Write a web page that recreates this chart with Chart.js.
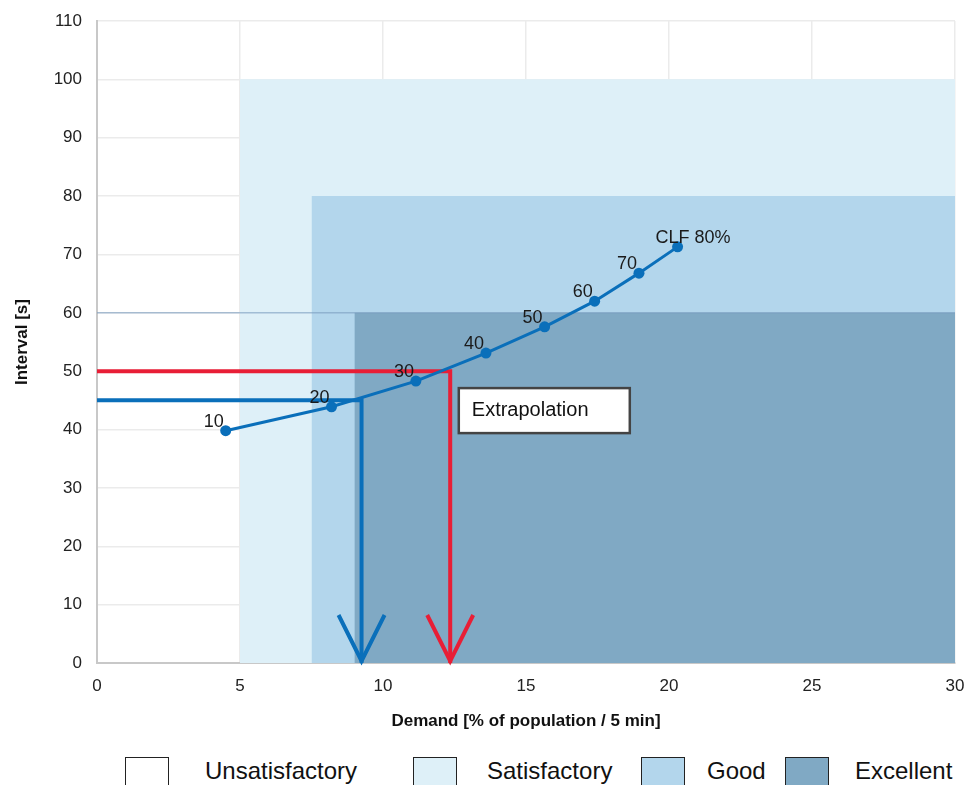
<!DOCTYPE html>
<html>
<head>
<meta charset="utf-8">
<script src="https://cdn.jsdelivr.net/npm/chart.js@4.4.1/dist/chart.umd.min.js"></script>
<style>
  body { margin: 0; background: #fff; overflow: hidden; font-family: "Liberation Sans", Arial, sans-serif; }
  #wrap { position: relative; width: 970px; height: 740px; }
  .lg-box { position: absolute; top: 757px; width: 42px; height: 32px; border: 1.5px solid #222; }
  .lg-txt { position: absolute; top: 757px; font-size: 24px; line-height: 28px; color: #111; }
</style>
</head>
<body>
<div id="wrap"><canvas id="chart"></canvas></div>

<div class="lg-box" style="left:125px;background:#ffffff"></div>
<div class="lg-txt" style="left:205px">Unsatisfactory</div>
<div class="lg-box" style="left:413px;background:#def0f8"></div>
<div class="lg-txt" style="left:487px">Satisfactory</div>
<div class="lg-box" style="left:641px;background:#b3d6ec"></div>
<div class="lg-txt" style="left:707px">Good</div>
<div class="lg-box" style="left:785px;background:#80a9c4"></div>
<div class="lg-txt" style="left:855px">Excellent</div>

<script>
// curve values (demand %, interval s)
const curveLabels = ['10', '20', '30', '40', '50', '60', '70', 'CLF 80%'];
const curveX = [4.5, 8.2, 11.15, 13.6, 15.65, 17.4, 18.95, 20.3];
const curveY = [39.8, 43.9, 48.3, 53.1, 57.6, 62.0, 66.8, 71.3];

// quality zones: [start x, top y]
const satisfactoryZone = [5, 100];
const goodZone = [7.5, 80];
const excellentZone = [9, 60];

// reading lines: [interval, demand]
const blueRead = [45, 9.25];
const redRead = [50, 12.35];

const xTicks = [0, 5, 10, 15, 20, 25, 30];
const yTicks = [0, 10, 20, 30, 40, 50, 60, 70, 80, 90, 100, 110];

const xMax = xTicks[xTicks.length - 1];
const FONT = '"Liberation Sans", Arial, sans-serif';

function zone(z) {
    return [{ x: z[0], y: z[1] }, { x: xMax, y: z[1] }];
}
function readLine(r) {
    return [{ x: 0, y: r[0] }, { x: r[1], y: r[0] }, { x: r[1], y: 0 }];
}

const curveData = curveX.map((x, i) => ({ x: x, y: curveY[i] }));

// labels next to the points, box and arrow heads
const extrasPlugin = {
    id: 'extras',
    afterDatasetsDraw(chart) {
        const ctx = chart.ctx;
        const xs = chart.scales.x;
        const ys = chart.scales.y;

        // arrow heads at the bottom of the reading lines
        const arrows = [[blueRead, '#0a6fba'], [redRead, '#e81e36']];
        arrows.forEach(([r, color]) => {
            const px = xs.getPixelForValue(r[1]);
            const py = ys.getPixelForValue(0) - 2;
            ctx.save();
            ctx.strokeStyle = color;
            ctx.lineWidth = 4;
            ctx.beginPath();
            ctx.moveTo(px - 23, py - 46);
            ctx.lineTo(px, py);
            ctx.lineTo(px + 23, py - 46);
            ctx.stroke();
            ctx.restore();
        });

        // point labels
        ctx.save();
        ctx.font = '18px ' + FONT;
        ctx.fillStyle = '#1a1a1a';
        ctx.textAlign = 'left';
        ctx.textBaseline = 'middle';
        curveData.forEach((p, i) => {
            const px = xs.getPixelForValue(p.x);
            const py = ys.getPixelForValue(p.y);
            ctx.fillText(curveLabels[i], px - 22, py - 9);
        });
        ctx.restore();

        // Extrapolation box
        const bx = xs.getPixelForValue(12.65);
        const by = ys.getPixelForValue(47.1);
        ctx.save();
        ctx.fillStyle = '#ffffff';
        ctx.fillRect(bx, by, 171, 45);
        ctx.strokeStyle = '#444';
        ctx.lineWidth = 2.5;
        ctx.strokeRect(bx, by, 171, 45);
        ctx.fillStyle = '#111';
        ctx.font = '20px ' + FONT;
        ctx.textBaseline = 'middle';
        ctx.fillText('Extrapolation', bx + 13, by + 22.5);
        ctx.restore();
    }
};

new Chart(document.getElementById('chart'), {
    type: 'line',
    data: {
        datasets: [
            { label: 'Satisfactory', data: zone(satisfactoryZone), fill: 'origin', backgroundColor: '#def0f8', borderWidth: 0, pointRadius: 0, order: 9 },
            { label: 'Good', data: zone(goodZone), fill: 'origin', backgroundColor: '#b3d6ec', borderWidth: 0, pointRadius: 0, order: 8 },
            { label: 'Excellent', data: zone(excellentZone), fill: 'origin', backgroundColor: '#80a9c4', borderWidth: 0, pointRadius: 0, order: 7 },
            { label: 'limit', data: zone([0, excellentZone[1]]), fill: false, borderColor: 'rgba(120,155,190,0.6)', borderWidth: 1.5, pointRadius: 0, order: 6 },
            { label: 'blue', data: readLine(blueRead), fill: false, borderColor: '#0a6fba', borderWidth: 4, pointRadius: 0, order: 4 },
            { label: 'red', data: readLine(redRead), fill: false, borderColor: '#e81e36', borderWidth: 4, pointRadius: 0, order: 3 },
            { label: 'CLF', data: curveData, fill: false, borderColor: '#0a6fba', backgroundColor: '#0a6fba', borderWidth: 3, pointRadius: 5.5, pointBorderWidth: 0, order: 1 }
        ]
    },
    options: {
        responsive: true,
        maintainAspectRatio: false,
        animation: false,
        layout: { padding: { top: 21, right: 15, left: 0, bottom: 0 } },
        plugins: { legend: { display: false }, tooltip: { enabled: false } },
        scales: {
            x: {
                type: 'linear',
                min: xTicks[0],
                max: xMax,
                afterFit: s => { s.height = 77; s.paddingLeft = 0; s.paddingRight = 0; },
                afterBuildTicks: s => { s.ticks = xTicks.map(v => ({ value: v })); },
                grid: { color: '#ebebeb', lineWidth: 1.5, drawTicks: false },
                border: { color: '#c8c8c8', width: 2 },
                ticks: { padding: 13, color: '#222', font: { size: 17, family: FONT } },
                title: {
                    display: true,
                    text: 'Demand [% of population / 5 min]',
                    color: '#111',
                    padding: { top: 0, bottom: 8 },
                    font: { size: 17, weight: 'bold', family: FONT }
                }
            },
            y: {
                min: yTicks[0],
                max: yTicks[yTicks.length - 1],
                afterFit: s => { s.width = 97; s.paddingTop = 0; s.paddingBottom = 0; },
                afterBuildTicks: s => { s.ticks = yTicks.map(v => ({ value: v })); },
                grid: { color: '#ebebeb', lineWidth: 1.5, drawTicks: false },
                border: { color: '#c8c8c8', width: 2 },
                ticks: { padding: 15, color: '#222', font: { size: 17, family: FONT } },
                title: {
                    display: true,
                    text: 'Interval [s]',
                    color: '#111',
                    padding: { top: 12, bottom: 0 },
                    font: { size: 17, weight: 'bold', family: FONT }
                }
            }
        }
    },
    plugins: [extrasPlugin]
});
</script>
</body>
</html>
